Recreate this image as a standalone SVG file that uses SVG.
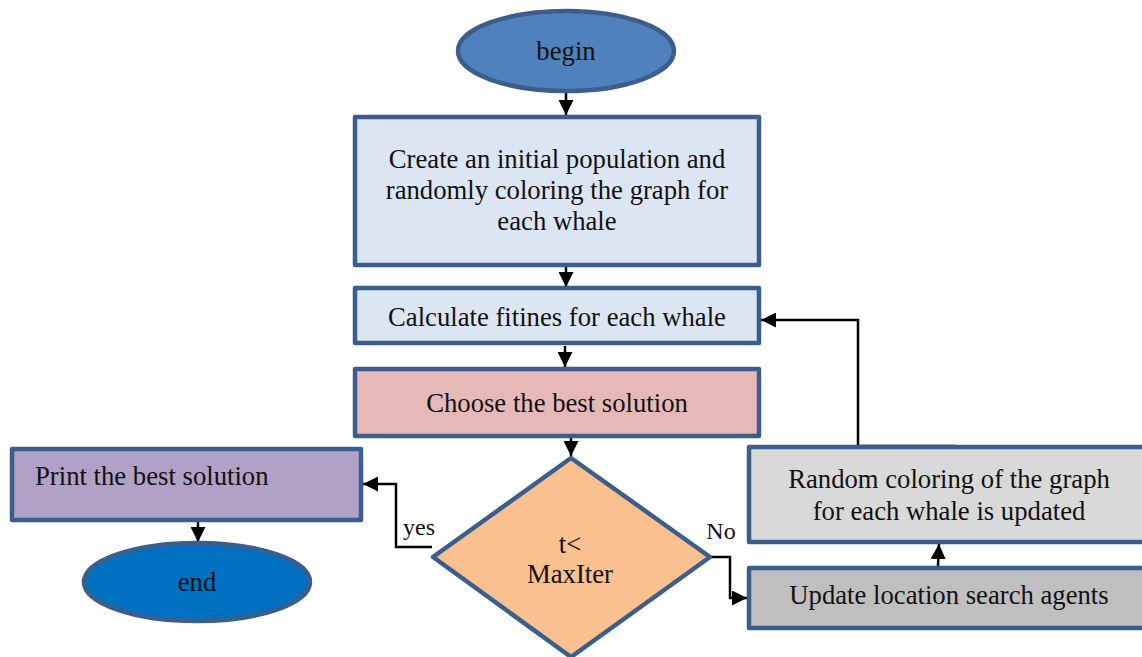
<svg xmlns="http://www.w3.org/2000/svg" width="1142" height="657" viewBox="0 0 1142 657">
<defs>
<marker id="ah" viewBox="0 0 14 14" refX="14" refY="7" markerWidth="15" markerHeight="15" markerUnits="userSpaceOnUse" orient="auto">
<path d="M0,0 L14,7 L0,14 z" fill="#000"/>
</marker>
<style>
.n{stroke:#3b5e8c;stroke-width:4.5;stroke-linejoin:round}
.t{font-family:'Liberation Serif','Times New Roman',serif;font-size:26.7px;fill:#111;text-anchor:middle}
.c{fill:none;stroke:#000;stroke-width:2.5;marker-end:url(#ah)}
</style>
</defs>
<rect width="1142" height="657" fill="#fff"/>
<g id="connectors">
<line class="c" x1="566" y1="91" x2="566" y2="115"/>
<line class="c" x1="566" y1="266" x2="566" y2="287"/>
<line class="c" x1="565" y1="346" x2="565" y2="367"/>
<line class="c" x1="571" y1="437" x2="571" y2="456"/>
<line class="c" x1="198" y1="522" x2="198" y2="542"/>
<polyline class="c" points="432,547 396,547 396,484 363,484"/>
<polyline class="c" points="711,557 730,557 730,598 747,598"/>
<line class="c" x1="938" y1="566" x2="939" y2="544"/>
<polyline class="c" points="956,446 858,446 858,320 761,320"/>
<text class="t" font-family="Liberation Serif, serif" x="419" y="535" style="font-size:24px">yes</text>
<text class="t" font-family="Liberation Serif, serif" x="721" y="539" style="font-size:24px">No</text>
</g>
<g id="begin">
<ellipse class="n" cx="566" cy="51" rx="108" ry="40" fill="#4f81bd"/>
<text class="t" font-family="Liberation Serif, serif" x="566" y="60">begin</text>
</g>
<g id="init" font-family="Liberation Serif, serif">
<rect class="n" x="355" y="117" width="404" height="148" fill="#dce6f2"/>
<text class="t" x="557" y="168">Create an initial population and</text>
<text class="t" x="557" y="199">randomly coloring the graph for</text>
<text class="t" x="557" y="230">each whale</text>
</g>
<g id="fitness" font-family="Liberation Serif, serif">
<rect class="n" x="355" y="288" width="404" height="55" fill="#dce6f2"/>
<text class="t" x="557" y="326">Calculate fitines for each whale</text>
</g>
<g id="best" font-family="Liberation Serif, serif">
<rect class="n" x="355" y="369" width="404" height="67" fill="#e6b9b8"/>
<text class="t" x="557" y="412">Choose the best solution</text>
</g>
<g id="decision" font-family="Liberation Serif, serif">
<polygon class="n" points="571,458 710,557 571,657 433,557" fill="#fac090"/>
<text class="t" x="570" y="553">t&lt;</text>
<text class="t" x="570" y="583">MaxIter</text>
</g>
<g id="print" font-family="Liberation Serif, serif">
<rect class="n" x="12" y="449" width="349" height="71" fill="#b2a1c7"/>
<text class="t" x="35" y="485" style="text-anchor:start">Print the best solution</text>
</g>
<g id="end" font-family="Liberation Serif, serif">
<ellipse class="n" cx="197" cy="582" rx="113" ry="39" fill="#0070c0"/>
<text class="t" x="197" y="591">end</text>
</g>
<g id="random" font-family="Liberation Serif, serif">
<rect class="n" x="749" y="447" width="400" height="95" fill="#d9d9d9"/>
<text class="t" x="949" y="488">Random coloring of the graph</text>
<text class="t" x="949" y="520">for each whale is updated</text>
</g>
<g id="update" font-family="Liberation Serif, serif">
<rect class="n" x="749" y="568" width="400" height="60" fill="#bfbfbf"/>
<text class="t" x="949" y="604">Update location search agents</text>
</g>
</svg>
